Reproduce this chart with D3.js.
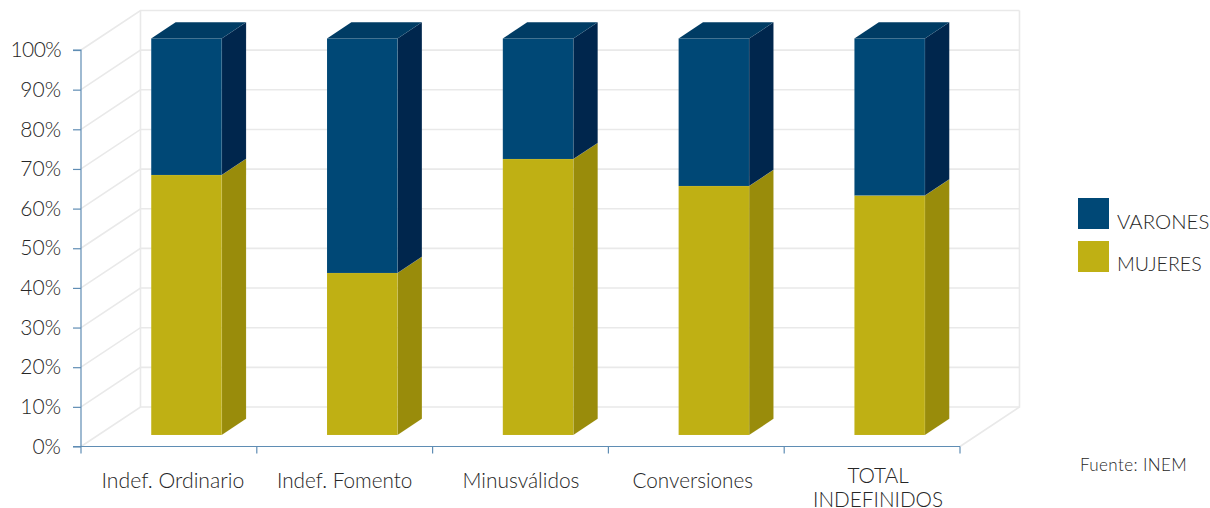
<!DOCTYPE html>
<html><head><meta charset="utf-8">
<script src="https://cdn.jsdelivr.net/npm/d3@7"></script>
<style>html,body{margin:0;background:#fff;overflow:hidden}svg{display:block}
text{font-family:Lato,sans-serif;font-weight:300;fill:#262626}</style></head>
<body><svg id="c" width="1210" height="508"></svg>
<script>
const categories=["Indef. Ordinario","Indef. Fomento","Minusválidos","Conversiones","TOTAL INDEFINIDOS"];
const mujeres=[65.6,40.9,69.6,62.8,60.4];
const varones=[34.4,59.1,30.4,37.2,39.6];
const yTicks=[0,10,20,30,40,50,60,70,80,90,100];
const legendNames=["VARONES","MUJERES"];
const source="Fuente: INEM";

const svg=d3.select("#c");
const x=d3.scaleBand().domain(categories).range([81,960]).paddingInner(0).paddingOuter(0);
const y=d3.scaleLinear().domain([0,100]).range([446.5,50]);
const DX=59.5,DY=-39.5;
const P=(px,val,d=0)=>[px+DX*d,y(val)+DY*d];
const line=d3.line();
const grid="#e9e9e9",axisC="#5f8db4";
const cBlue="#004876",cBlueTop="#003c64",cBlueSide="#00264d",cGold="#bfb014",cGoldSide="#998c0b";

// walls
const g=svg.append("g").attr("fill","none").attr("stroke",grid).attr("stroke-width",1.6);
yTicks.forEach(t=>{
  g.append("path").attr("d",line([P(81,t),P(81,t,1),P(960,t,1)]));
});
g.append("path").attr("d",line([P(81,100,1),P(81,0,1)]));
g.append("path").attr("d",line([P(960,100,1),P(960,0,1),P(960,0)]));

// bars
const d0=0.29,d1=0.70,barW=70.5;
const bars=svg.append("g");
const barLeft=c=>x(c)+x.bandwidth()/2-barW/2+DX*d0+0.3;
function box(cat,lo,hi,front,side){
  const l=barLeft(cat),r=l+barW;
  bars.append("path").attr("fill",side).attr("stroke","#ffffff").attr("stroke-opacity",.12).attr("stroke-width",.6)
    .attr("d",line([P(r,lo,0),P(r,hi,0),P(r,hi,d1-d0),P(r,lo,d1-d0)].map(p=>[p[0],p[1]+DY*d0]))+"Z");
  bars.append("path").attr("fill",front).attr("stroke","#ffffff").attr("stroke-opacity",.12).attr("stroke-width",.6)
    .attr("d",line([[l,y(lo)+DY*d0],[r,y(lo)+DY*d0],[r,y(hi)+DY*d0],[l,y(hi)+DY*d0]])+"Z");
}
categories.forEach((c,i)=>{
  box(c,0,mujeres[i],cGold,cGoldSide);
  box(c,mujeres[i],mujeres[i]+varones[i],cBlue,cBlueSide);
  const l=barLeft(c),r=l+barW,t=100;
  bars.append("path").attr("fill",cBlueTop)
    .attr("d",line([[l,y(t)+DY*d0],[r,y(t)+DY*d0],[r+DX*(d1-d0),y(t)+DY*d1],[l+DX*(d1-d0),y(t)+DY*d1]])+"Z");
});

// axes
const yAxis=d3.axisLeft(y).tickValues(yTicks).tickFormat(d=>d+"%").tickSize(8).tickPadding(12);
const ya=svg.append("g").attr("transform","translate(81,0)").call(yAxis);
ya.selectAll("path,line").attr("stroke",axisC).attr("stroke-width",1.2);
ya.select(".domain").attr("d",`M-8,${y(100)}H0V${y(0)}H-8`);
ya.selectAll("text").style("font-size","21px").attr("fill","#262626").attr("dy",".32em");
ya.selectAll(".tick").filter(d=>d===100).select("text").attr("letter-spacing","-.6");
const xa=svg.append("g").attr("transform",`translate(0,${y(0)})`);
xa.append("line").attr("x1",81).attr("x2",960).attr("stroke",axisC).attr("stroke-width",1.2);
[...categories.map(c=>x(c)),960].forEach(v=>xa.append("line").attr("x1",v).attr("x2",v).attr("y1",0).attr("y2",7).attr("stroke",axisC).attr("stroke-width",1.2));

// category labels (small per-label nudges from the band centre)
const labelNudge=[4,0,0.5,-3.5,6];
const labelSize=[21.2,20.7,20.9,20.7,20.7];
categories.forEach((c,i)=>{
  const cx=x(c)+x.bandwidth()/2+labelNudge[i];
  const t=svg.append("text").attr("text-anchor","middle").style("font-size",labelSize[i]+"px").attr("x",cx);
  const parts=c==="TOTAL INDEFINIDOS"?c.split(" "):[c];
  const y0=parts.length>1?483:488;
  parts.forEach((p,j)=>t.append("tspan").attr("x",cx).attr("y",y0+j*24).text(p));
});

// legend
const colors=[cBlue,cGold];
legendNames.forEach((n,i)=>{
  svg.append("rect").attr("x",1078).attr("y",198+i*43).attr("width",31).attr("height",31).attr("fill",colors[i]);
  svg.append("text").attr("x",1117).attr("y",229+i*42).style("font-size",i?"19.6px":"20.4px").text(n);
});
svg.append("text").attr("x",1080).attr("y",471).style("font-size","17px").attr("letter-spacing",".4").text(source);
</script></body></html>
